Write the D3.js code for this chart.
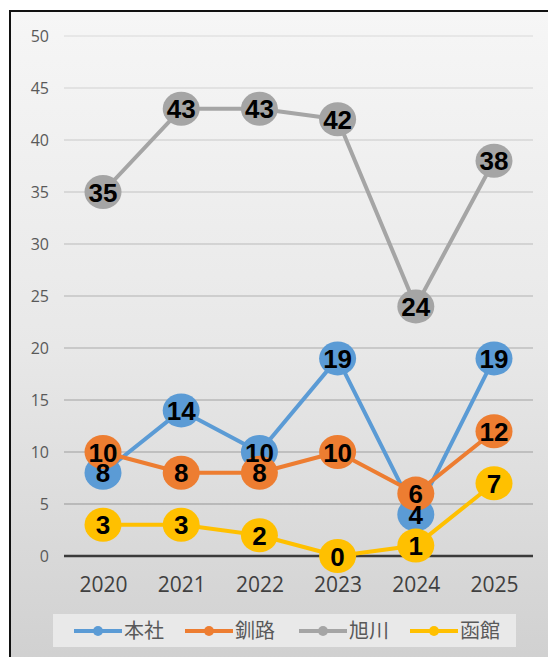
<!DOCTYPE html>
<html><head><meta charset="utf-8">
<script src="https://cdn.jsdelivr.net/npm/d3@7"></script>
<style>body{margin:0;background:#fff}svg{display:block}</style>
</head><body>
<svg id="c" width="548" height="657"></svg>
<script>
const categories = ["2020","2021","2022","2023","2024","2025"];
const seriesNames = ["本社","釧路","旭川","函館"];
const honsha = [8,14,10,19,4,19];
const kushiro = [10,8,8,10,6,12];
const asahikawa = [35,43,43,42,24,38];
const hakodate = [3,3,2,0,1,7];
const yTicks = [0,5,10,15,20,25,30,35,40,45,50];
const colors = ["#5B9BD5","#ED7D31","#A5A5A5","#FFC000"];
const seriesValues = [honsha,kushiro,asahikawa,hakodate];

const svg = d3.select("#c");
const defs = svg.append("defs");
const g = defs.append("linearGradient").attr("id","bg").attr("x1",0).attr("y1",0).attr("x2",0).attr("y2",1);
g.append("stop").attr("offset","0%").attr("stop-color","#f6f6f6");
g.append("stop").attr("offset","50%").attr("stop-color","#e8e8e8");
g.append("stop").attr("offset","100%").attr("stop-color","#cfcfcf");

svg.append("rect").attr("x",10).attr("y",11).attr("width",560).attr("height",670)
  .attr("fill","url(#bg)").attr("stroke","#111").attr("stroke-width",2);

const x = d3.scalePoint().domain(categories).range([103,494]);
const y = d3.scaleLinear().domain([0,50]).range([556,36]);

const gridCol = d3.scaleLinear().domain([36,556]).range(["#e2e2e2","#a8a8a8"]);
svg.append("g").selectAll("line").data(yTicks.filter(d=>d>0)).join("line")
  .attr("x1",64).attr("x2",533).attr("y1",d=>y(d)).attr("y2",d=>y(d))
  .attr("stroke",d=>gridCol(y(d))).attr("stroke-width",1.5);
svg.append("line").attr("x1",64).attr("x2",533).attr("y1",y(0)).attr("y2",y(0))
  .attr("stroke","#3a3a3a").attr("stroke-width",2.5);

const yAxis = d3.axisLeft(y).tickValues(yTicks).tickSize(0).tickPadding(0);
const ya = svg.append("g").attr("transform","translate(49,0)").call(yAxis);
ya.select(".domain").remove();
ya.selectAll("text").attr("fill","#595959").style("font-family","'Open Sans', 'DejaVu Sans', sans-serif").style("font-size","16px");

const xAxis = d3.axisBottom(x).tickSize(0).tickPadding(0);
const xa = svg.append("g").attr("transform","translate(0,577)").call(xAxis);
xa.select(".domain").remove();
xa.selectAll("text").attr("fill","#404040").style("font-family","'Open Sans', 'DejaVu Sans', sans-serif").style("font-size","21px");

const line = d3.line().x((d,i)=>x(categories[i])).y(d=>y(d));
seriesValues.forEach((vals,si)=>{
  const sg = svg.append("g");
  sg.append("path").datum(vals).attr("d",line).attr("fill","none")
    .attr("stroke",colors[si]).attr("stroke-width",4).attr("stroke-linejoin","round");
  sg.selectAll("ellipse").data(vals).join("ellipse")
    .attr("cx",(d,i)=>x(categories[i])).attr("cy",d=>y(d))
    .attr("rx",18.5).attr("ry",17).attr("fill",colors[si]);
});
seriesValues.forEach((vals,si)=>{
  svg.append("g").selectAll("text").data(vals).join("text")
    .attr("x",(d,i)=>x(categories[i])).attr("y",d=>y(d)+9.5)
    .attr("text-anchor","middle").attr("fill","#000")
    .style("font-family","'Liberation Sans', Arial, sans-serif").style("font-weight","bold").style("font-size","26px")
    .text(d=>d);
});

// legend
svg.append("rect").attr("x",53).attr("y",614).attr("width",463).attr("height",33).attr("fill","#e9e9e9");
const legX = [74,185,299,410];
seriesNames.forEach((n,i)=>{
  const lg = svg.append("g").attr("transform",`translate(${legX[i]},631)`);
  lg.append("line").attr("x1",0).attr("x2",48).attr("stroke",colors[i]).attr("stroke-width",4);
  lg.append("circle").attr("cx",24).attr("r",5).attr("fill",colors[i]);
  lg.append("text").attr("x",50).attr("y",7).attr("fill","#595959")
    .style("font-family","'Noto Sans CJK JP', sans-serif").style("font-size","20px").text(n);
});
</script>
</body></html>
